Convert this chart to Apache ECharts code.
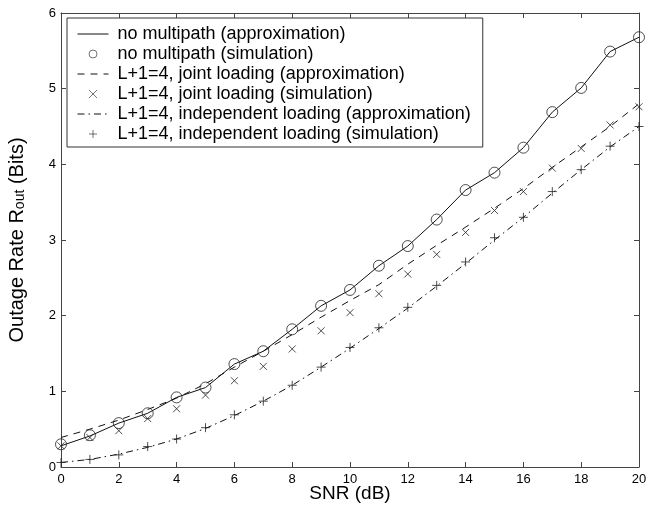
<!DOCTYPE html>
<html>
<head>
<meta charset="utf-8">
<script src="https://cdn.jsdelivr.net/npm/echarts@6/dist/echarts.min.js"></script>
<style>
html,body{margin:0;padding:0;background:#fff;overflow:hidden;}
#chart{width:647px;height:506px;}
</style>
</head>
<body>
<div id="chart"></div>
<script>
const snr = [0,1,2,3,4,5,6,7,8,9,10,11,12,13,14,15,16,17,18,19,20];
const xTicks = [0,2,4,6,8,10,12,14,16,18,20];
const yTicks = [0,1,2,3,4,5,6];

const noMultipathApprox = [0.28,0.41,0.58,0.71,0.92,1.05,1.36,1.53,1.82,2.13,2.34,2.66,2.92,3.27,3.66,3.89,4.22,4.69,5.01,5.49,5.68];
const noMultipathSim    = [0.30,0.42,0.58,0.71,0.92,1.05,1.36,1.53,1.82,2.13,2.34,2.66,2.92,3.27,3.66,3.89,4.22,4.69,5.01,5.49,5.68];
const jointApprox       = [0.39,0.50,0.62,0.76,0.91,1.10,1.32,1.53,1.75,1.98,2.20,2.41,2.68,2.93,3.17,3.42,3.68,3.96,4.23,4.50,4.80];
const jointSim          = [0.28,0.39,0.48,0.64,0.77,0.95,1.14,1.33,1.56,1.80,2.04,2.29,2.55,2.81,3.10,3.39,3.64,3.95,4.21,4.52,4.76];
const indepApprox       = [0.06,0.10,0.17,0.26,0.37,0.51,0.68,0.87,1.08,1.32,1.57,1.83,2.10,2.39,2.69,3.00,3.30,3.62,3.93,4.23,4.50];
const indepSim          = [0.06,0.10,0.16,0.27,0.37,0.52,0.69,0.87,1.08,1.32,1.58,1.84,2.11,2.40,2.71,3.03,3.30,3.64,3.93,4.24,4.50];

const names = [
  'no multipath (approximation)',
  'no multipath (simulation)',
  'L+1=4, joint loading (approximation)',
  'L+1=4, joint loading (simulation)',
  'L+1=4, independent loading (approximation)',
  'L+1=4, independent loading (simulation)'
];

const pair = (ys) => snr.map((x, i) => [x, ys[i]]);
const FONT = 'Liberation Sans, Arial, Helvetica, sans-serif';
const AX = '#444';
const xMark = 'path://M0,0L10,10M10,0L0,10';
const plusMark = 'path://M5,0L5,10M0,5L10,5';

const chart = echarts.init(document.getElementById('chart'), null, {renderer: 'canvas'});

const axisCommon = {
  axisLine: {show: true, onZero: false, lineStyle: {color: AX, width: 1}},
  axisTick: {show: true, inside: true, length: 5, lineStyle: {color: AX}},
  splitLine: {show: false}
};

const legendData = names.map((n, i) => (i % 2 === 0)
  ? {name: n, itemStyle: {opacity: 0}, lineStyle: {width: 1}}
  : {name: n, itemStyle: {borderWidth: 0.8}});

chart.setOption({
  animation: false,
  backgroundColor: '#fff',
  textStyle: {fontFamily: FONT},
  grid: {left: 61, right: 8, top: 13, bottom: 39, containLabel: false, outerBoundsMode: 'none'},
  legend: {
    orient: 'vertical',
    left: 67, top: 18,
    padding: [6, 12, 3, 10],
    itemGap: 0,
    itemWidth: 31,
    itemHeight: 8,
    borderColor: '#333', borderWidth: 1,
    backgroundColor: '#fff',
    textStyle: {fontSize: 18, lineHeight: 20, color: '#000', fontFamily: FONT, padding: [0,0,0,4]},
    data: legendData
  },
  xAxis: [
    Object.assign({}, axisCommon, {
      type: 'value', min: 0, max: 20, interval: 2, position: 'bottom',
      name: 'SNR (dB)', nameLocation: 'middle', nameGap: 17, nameMoveOverlap: false,
      nameTextStyle: {fontSize: 19, color: '#000', fontFamily: FONT},
      axisLabel: {fontSize: 13, color: '#000', margin: 6, fontFamily: FONT,
        formatter: v => xTicks.includes(v) ? String(v) : ''}
    }),
    Object.assign({}, axisCommon, {
      type: 'value', min: 0, max: 20, interval: 2, position: 'top',
      axisLabel: {show: false}
    })
  ],
  yAxis: [
    Object.assign({}, axisCommon, {
      type: 'value', min: 0, max: 6, interval: 1, position: 'left',
      name: '{a|Outage Rate R}{s|out}{a| (Bits)}', nameLocation: 'middle', nameGap: 28,
      nameTextStyle: {color: '#000', fontFamily: FONT,
        rich: {
          a: {fontSize: 20, color: '#000', fontFamily: FONT, padding: [0,0,6,0]},
          s: {fontSize: 14, color: '#000', fontFamily: FONT}
        }},
      axisLabel: {fontSize: 13, color: '#000', margin: 5, fontFamily: FONT,
        formatter: v => yTicks.includes(v) ? String(v) : ''}
    }),
    Object.assign({}, axisCommon, {
      type: 'value', min: 0, max: 6, interval: 1, position: 'right',
      axisLabel: {show: false}
    })
  ],
  series: [
    {
      name: names[0], type: 'line', data: pair(noMultipathApprox),
      symbol: 'none', lineStyle: {color: '#111', width: 1, type: 'solid'},
      itemStyle: {color: '#111'}, z: 3
    },
    {
      name: names[1], type: 'scatter', data: pair(noMultipathSim),
      symbol: 'circle', symbolSize: 11,
      itemStyle: {color: 'rgba(0,0,0,0)', borderColor: '#222', borderWidth: 1}, z: 4
    },
    {
      name: names[2], type: 'line', data: pair(jointApprox),
      symbol: 'none', lineStyle: {color: '#111', width: 1, type: [7, 6]},
      itemStyle: {color: '#111'}, z: 3
    },
    {
      name: names[3], type: 'scatter', data: pair(jointSim),
      symbol: xMark, symbolSize: 7,
      itemStyle: {color: 'none', borderColor: '#222', borderWidth: 1}, z: 4
    },
    {
      name: names[4], type: 'line', data: pair(indepApprox),
      symbol: 'none', lineStyle: {color: '#111', width: 1, type: [7, 4, 1.5, 4]},
      itemStyle: {color: '#111'}, z: 3
    },
    {
      name: names[5], type: 'scatter', data: pair(indepSim),
      symbol: plusMark, symbolSize: 9,
      itemStyle: {color: 'none', borderColor: '#222', borderWidth: 1}, z: 4
    }
  ]
});
</script>
</body>
</html>
